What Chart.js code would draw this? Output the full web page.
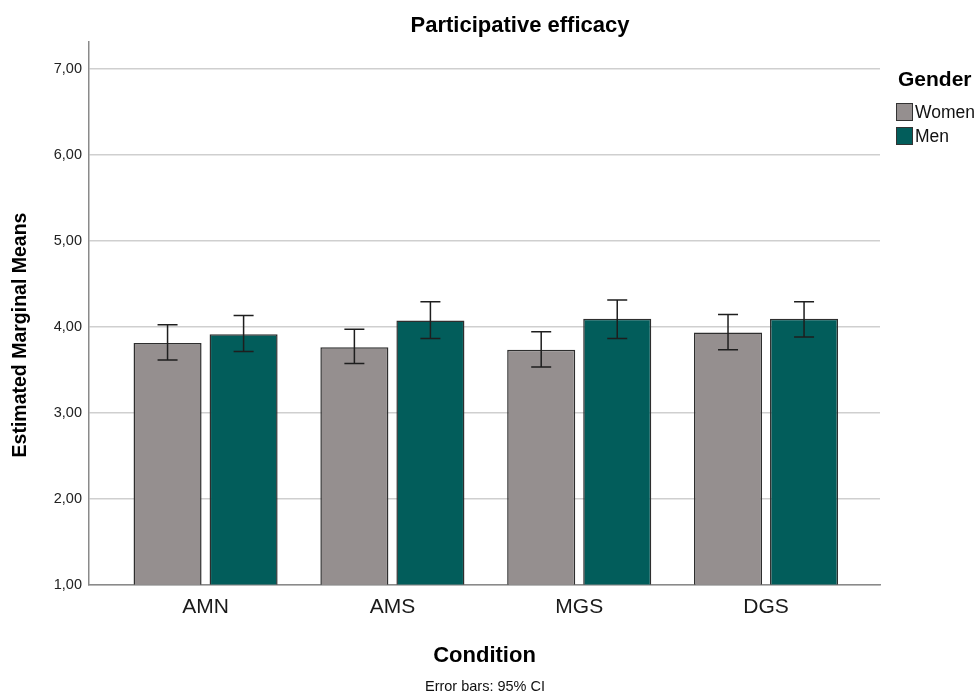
<!DOCTYPE html>
<html>
<head>
<meta charset="utf-8">
<script src="https://cdn.jsdelivr.net/npm/chart.js@4.4.1/dist/chart.umd.min.js"></script>
<style>
    html, body { margin: 0; padding: 0; background: #fff; }
    #wrap { width: 980px; height: 696px; position: relative; }
</style>
</head>
<body>
<div id="wrap"><canvas id="efficacy_chart"></canvas></div>
<script>
    // estimated marginal means per condition, with 95% CI bounds
    var conditions = ['AMN', 'AMS', 'MGS', 'DGS'];
    var women_mean = [3.81, 3.76, 3.73, 3.93];
    var women_low = [3.61, 3.57, 3.53, 3.73];
    var women_high = [4.02, 3.97, 3.94, 4.14];
    var men_mean = [3.91, 4.07, 4.09, 4.09];
    var men_low = [3.71, 3.86, 3.86, 3.88];
    var men_high = [4.13, 4.29, 4.31, 4.29];
    var y_ticks = [1, 2, 3, 4, 5, 6, 7];

    var women_color = '#958f8f';
    var men_color = '#025d5b';
    var font_family = "'Liberation Sans', Arial, sans-serif";

    Chart.defaults.font.family = font_family;

    function to_points(values) {
        return values.map((v, i) => { return { x: i, y: v } });
    }

    // whiskers for the confidence intervals
    var error_bars = {
        id: 'error_bars',
        afterDatasetsDraw: function (chart) {
            var ctx = chart.ctx;
            var y = chart.scales.y;
            ctx.save();
            ctx.strokeStyle = '#1e1e1e';
            ctx.lineWidth = 1.5;
            chart.data.datasets.forEach(function (ds, d) {
                var meta = chart.getDatasetMeta(d);
                meta.data.forEach(function (bar, i) {
                    var top = y.getPixelForValue(ds.ci_high[i]);
                    var bottom = y.getPixelForValue(ds.ci_low[i]);
                    ctx.beginPath();
                    ctx.moveTo(bar.x, top);
                    ctx.lineTo(bar.x, bottom);
                    ctx.moveTo(bar.x - 10, top);
                    ctx.lineTo(bar.x + 10, top);
                    ctx.moveTo(bar.x - 10, bottom);
                    ctx.lineTo(bar.x + 10, bottom);
                    ctx.stroke();
                });
            });
            ctx.restore();
        }
    };

    // title, y title, footnote and the legend block on the right
    var decorations = {
        id: 'decorations',
        afterDraw: function (chart) {
            var ctx = chart.ctx;
            ctx.save();
            ctx.fillStyle = '#000';
            ctx.textBaseline = 'middle';

            ctx.textAlign = 'center';
            ctx.font = 'bold 22px ' + font_family;
            ctx.fillText('Participative efficacy', 520, 26);

            ctx.font = '14.5px ' + font_family;
            ctx.fillStyle = '#111';
            ctx.fillText('Error bars: 95% CI', 485, 687);

            ctx.save();
            ctx.translate(21, 335);
            ctx.rotate(-Math.PI / 2);
            ctx.fillStyle = '#000';
            ctx.font = 'bold 19.5px ' + font_family;
            ctx.fillText('Estimated Marginal Means', 0, 0);
            ctx.restore();

            ctx.textAlign = 'left';
            ctx.fillStyle = '#000';
            ctx.font = 'bold 21px ' + font_family;
            ctx.fillText('Gender', 898, 80);

            ctx.font = '17.5px ' + font_family;
            chart.data.datasets.forEach(function (ds, d) {
                var top = 103 + d * 24;
                ctx.fillStyle = ds.backgroundColor;
                ctx.fillRect(896, top, 17, 18);
                ctx.strokeStyle = '#333';
                ctx.lineWidth = 1;
                ctx.strokeRect(896.5, top + 0.5, 16, 17);
                ctx.fillStyle = '#111';
                ctx.fillText(ds.label, 915, top + 10);
            });
            ctx.restore();
        }
    };

    var efficacy_chart = new Chart(document.getElementById('efficacy_chart'), {
        type: 'bar',
        data: {
            datasets: [
                {
                    label: 'Women',
                    data: to_points(women_mean),
                    ci_low: women_low,
                    ci_high: women_high,
                    backgroundColor: women_color,
                    borderColor: '#2e2e2e',
                    borderWidth: 1.5
                },
                {
                    label: 'Men',
                    data: to_points(men_mean),
                    ci_low: men_low,
                    ci_high: men_high,
                    backgroundColor: men_color,
                    borderColor: '#2e2e2e',
                    borderWidth: 1.5
                }
            ]
        },
        options: {
            responsive: true,
            maintainAspectRatio: false,
            animation: false,
            categoryPercentage: 0.814,
            barPercentage: 0.895,
            layout: {
                padding: { top: 42, right: 100, bottom: 0, left: 0 }
            },
            plugins: {
                legend: { display: false },
                title: { display: false },
                tooltip: { enabled: false }
            },
            scales: {
                x: {
                    type: 'linear',
                    offset: false,
                    min: -0.624,
                    max: 3.61,
                    afterBuildTicks: function (axis) {
                        axis.ticks = conditions.map((c, i) => { return { value: i } });
                    },
                    afterFit: function (axis) {
                        axis.height = 111.5;
                    },
                    ticks: {
                        callback: function (v) { return conditions[v]; },
                        color: '#1a1a1a',
                        font: { size: 21 },
                        padding: 10,
                        autoSkip: false,
                        maxRotation: 0
                    },
                    grid: { display: false, drawTicks: false, offset: false },
                    border: { color: '#8a8a8a', width: 1.5 },
                    title: {
                        display: true,
                        text: 'Condition',
                        color: '#000',
                        font: { size: 22, weight: 'bold' },
                        padding: { top: 0, bottom: 27 }
                    }
                },
                y: {
                    min: 1,
                    max: 7.31,
                    afterBuildTicks: function (axis) {
                        axis.ticks = y_ticks.map(v => { return { value: v } });
                    },
                    afterFit: function (axis) {
                        axis.width = 89;
                    },
                    ticks: {
                        callback: function (v) { return v.toFixed(2).replace('.', ','); },
                        color: '#222',
                        font: { size: 14.5 },
                        padding: 7
                    },
                    grid: { color: '#cfcfcf', lineWidth: 1.5, drawTicks: false },
                    border: { color: '#8a8a8a', width: 1.5 }
                }
            }
        },
        plugins: [error_bars, decorations]
    });
</script>
</body>
</html>
